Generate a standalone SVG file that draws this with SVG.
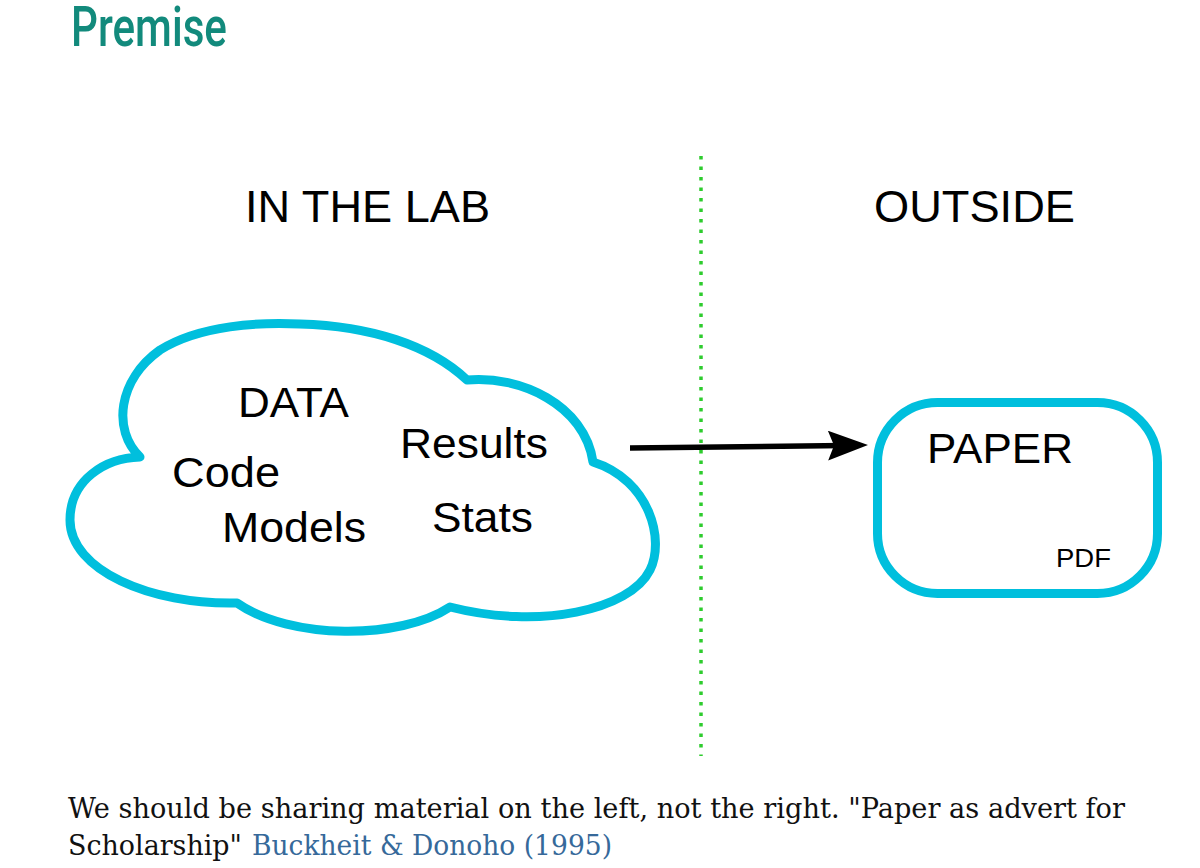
<svg xmlns="http://www.w3.org/2000/svg" width="1200" height="868" viewBox="0 0 1200 868">
<defs>
<style>
.sans{font-family:"Liberation Sans",Arial,sans-serif;fill:#000}
.head{font-size:45px}
.cl{font-size:43px}
.shape{fill:#fff;stroke:#00BFDD;stroke-width:9;stroke-linejoin:round}
.body{font-family:"DejaVu Serif","Liberation Serif",serif;font-size:27px;fill:#111}
</style>
<marker id="ah" markerWidth="40" markerHeight="30" refX="17" refY="15" orient="auto" markerUnits="userSpaceOnUse" viewBox="0 0 40 30">
<path d="M0,0 L40,15 L0,30 L6,15 Z" fill="#000"/>
</marker>
</defs>
<rect width="1200" height="868" fill="#fff"/>
<text x="71" y="46" font-family="Roboto,'Liberation Sans',Arial,sans-serif" font-weight="500" font-size="55" fill="#128A7C" textLength="156" lengthAdjust="spacingAndGlyphs">Premise</text>
<text class="sans head" x="245" y="222" textLength="245" lengthAdjust="spacingAndGlyphs">IN THE LAB</text>
<text class="sans head" x="874" y="222" textLength="201" lengthAdjust="spacingAndGlyphs">OUTSIDE</text>
<line x1="701" y1="156" x2="701" y2="756" stroke="#2ECC2E" stroke-width="3.5" stroke-dasharray="3.5 7"/>
<g id="lab">
<path class="shape" d="M140,457 C112,430 118,380 160,350 C200,325 260,322 300,324 C370,326 430,345 467,380 C520,375 585,405 593,462 C650,480 665,540 650,570 C630,610 540,630 450,607 C400,640 290,640 237,603 C150,605 70,570 70,520 C70,480 105,458 140,457 Z"/>
<text class="sans cl" x="238" y="417" textLength="111" lengthAdjust="spacingAndGlyphs">DATA</text>
<text class="sans cl" x="172" y="487" textLength="108" lengthAdjust="spacingAndGlyphs">Code</text>
<text class="sans cl" x="400" y="458" textLength="148" lengthAdjust="spacingAndGlyphs">Results</text>
<text class="sans cl" x="222" y="542" textLength="144" lengthAdjust="spacingAndGlyphs">Models</text>
<text class="sans cl" x="432" y="532" textLength="101" lengthAdjust="spacingAndGlyphs">Stats</text>
</g>
<g id="paper">
<rect class="shape" x="877.5" y="402.5" width="280" height="191" rx="60" ry="60"/>
<text class="sans" x="927" y="463" font-size="43" textLength="146" lengthAdjust="spacingAndGlyphs">PAPER</text>
<text class="sans" x="1056" y="567" font-size="25" textLength="55" lengthAdjust="spacingAndGlyphs">PDF</text>
</g>
<g id="connectors">
<line x1="630" y1="448" x2="845" y2="445.4" stroke="#000" stroke-width="5.5" marker-end="url(#ah)"/>
</g>
<text class="body" x="68" y="818" textLength="1057" lengthAdjust="spacingAndGlyphs">We should be sharing material on the left, not the right. "Paper as advert for</text>
<text class="body" x="68" y="855" textLength="174" lengthAdjust="spacingAndGlyphs">Scholarship"</text>
<text class="body" x="252" y="855" fill="#36699A" style="fill:#36699A" textLength="360" lengthAdjust="spacingAndGlyphs">Buckheit &amp; Donoho (1995)</text>
</svg>
